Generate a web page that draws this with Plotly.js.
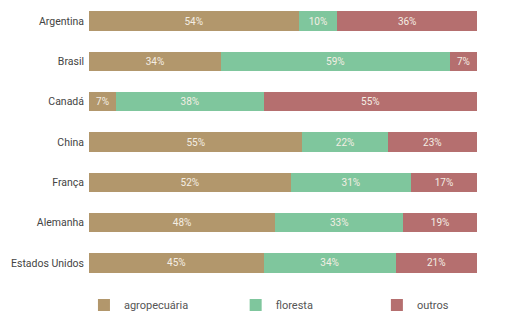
<!DOCTYPE html>
<html><head><meta charset="utf-8">
<script src="https://cdn.plot.ly/plotly-3.0.1.min.js"></script>
<style>html,body{margin:0;padding:0;background:#fff}</style>
</head><body>
<div id="chart" style="width:513px;height:334px"></div>
<script>
const countries = ["Argentina","Brasil","Canadá","China","França","Alemanha","Estados Unidos"];
const agropecuaria = [54,34,7,55,52,48,45];
const floresta = [10,59,38,22,31,33,34];
const outros = [36,7,55,23,17,19,21];
const seriesNames = ["agropecuária","floresta","outros"];
const colors = ["#b2976c","#7fc69d","#b56f6f"];

const vals = [agropecuaria, floresta, outros];
const legendIds = ["legend","legend2","legend3"];
const traces = vals.map((v,i)=>({
  type:"bar", orientation:"h", name:seriesNames[i],
  y:countries, x:v, legend:legendIds[i],
  text:v.map(d=>d+"%"), textposition:"inside", insidetextanchor:"middle",
  textfont:{family:"Roboto", size:10, color:"#f4eee4"},
  marker:{color:colors[i], line:{width:0}},
  hoverinfo:"none"
}));

const legFont = {family:"Roboto", size:11, color:"#555"};
const legBase = {orientation:"h", y:-0.078, yanchor:"middle", xanchor:"left",
                 bgcolor:"rgba(0,0,0,0)", font:legFont};

Plotly.newPlot("chart", traces, {
  width:513, height:334,
  barmode:"stack", bargap:0.52,
  margin:{l:89, r:36, t:1, b:51},
  paper_bgcolor:"#fff", plot_bgcolor:"#fff",
  font:{family:"Roboto", color:"#444"},
  xaxis:{range:[0,100], visible:false, showgrid:false, zeroline:false, fixedrange:true},
  yaxis:{autorange:"reversed", showgrid:false, zeroline:false, showline:false, ticks:"",
         ticklabelstandoff:4, tickfont:{family:"Roboto", size:10.5, color:"#444"}},
  uniformtext:{mode:"show", minsize:8},
  showlegend:true,
  legend:Object.assign({}, legBase, {x:-0.013}),
  legend2:Object.assign({}, legBase, {x:0.378}),
  legend3:Object.assign({}, legBase, {x:0.742})
}, {staticPlot:true});
</script>
</body></html>
